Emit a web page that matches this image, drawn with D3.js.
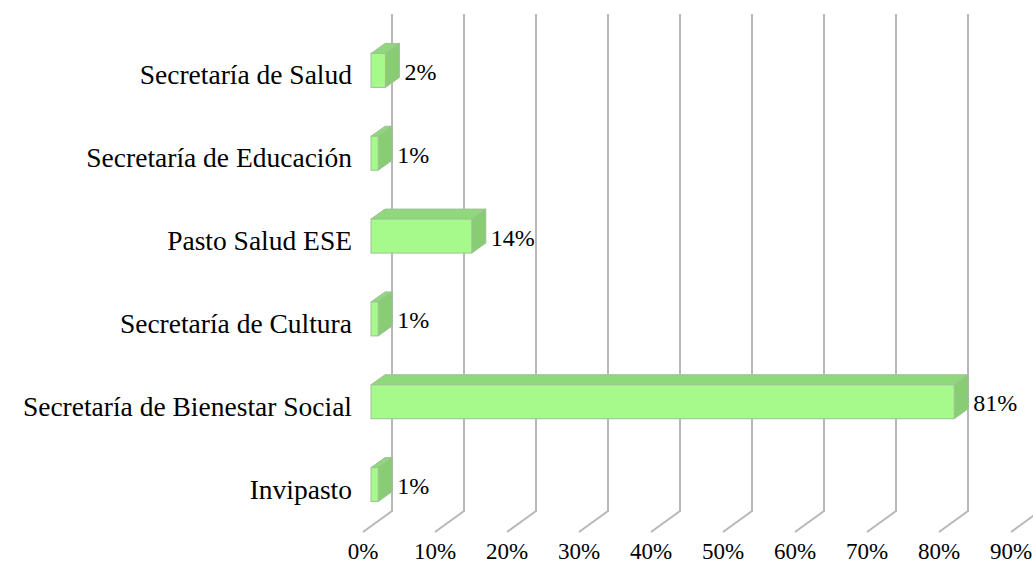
<!DOCTYPE html>
<html>
<head>
<meta charset="utf-8">
<script src="https://cdn.jsdelivr.net/npm/d3@7"></script>
<style>
  body { margin: 0; background: #fff; }
</style>
</head>
<body>
<svg id="chart" width="1033" height="565"></svg>
<script>
var categories = ["Secretaría de Salud", "Secretaría de Educación", "Pasto Salud ESE",
                  "Secretaría de Cultura", "Secretaría de Bienestar Social", "Invipasto"];
var values = [0.02, 0.01, 0.14, 0.01, 0.81, 0.01];
var valueLabels = ["2%", "1%", "14%", "1%", "81%", "1%"];
var ticks = [0, 0.1, 0.2, 0.3, 0.4, 0.5, 0.6, 0.7, 0.8, 0.9];

var font = "'Liberation Serif', 'Times New Roman', 'DejaVu Serif', serif";

var svg = d3.select("#chart");

// back wall plane
var x = d3.scaleLinear().domain([0, 0.9]).range([392, 1040]);
var y = d3.scaleBand().domain(categories).range([14, 511]).paddingInner(0.59).paddingOuter(0.295);

// depth offsets (toward viewer)
var floorDx = -29, floorDy = 21;
var barFrontDx = -21, barFrontDy = 15;
var depthX = 14, depthY = -10;

// gridlines: vertical on back wall, then diagonal across the floor
var grid = svg.append("g");
grid.selectAll("path").data(ticks).enter().append("path")
  .attr("d", function(d) {
    var gx = x(d);
    return "M" + gx + ",14 L" + gx + ",511 L" + (gx + floorDx) + "," + (511 + floorDy);
  })
  .attr("fill", "none")
  .attr("stroke", "#b8b8b8")
  .attr("stroke-width", 2);

// tick labels
svg.append("g").selectAll("text").data(ticks).enter().append("text")
  .attr("x", function(d) { return x(d) + floorDx; })
  .attr("y", 559)
  .attr("text-anchor", "middle")
  .style("font-family", font)
  .style("font-size", "23px")
  .text(function(d) { return Math.round(d * 100) + "%"; });

// bars
var bars = svg.append("g").selectAll("g").data(categories).enter().append("g");

bars.each(function(c, i) {
  var g = d3.select(this);
  var x0 = x(0) + barFrontDx;
  var x1 = x(values[i]) + barFrontDx;
  var y0 = y(c) + barFrontDy;
  var h = y.bandwidth();
  var stroke = "#9fbf95";

  // top face
  g.append("path")
    .attr("d", "M" + x0 + "," + y0 + " L" + (x0 + depthX) + "," + (y0 + depthY) +
               " L" + (x1 + depthX) + "," + (y0 + depthY) + " L" + x1 + "," + y0 + "Z")
    .attr("fill", "#8fd97c").attr("stroke", stroke).attr("stroke-width", 1);
  // side face
  g.append("path")
    .attr("d", "M" + x1 + "," + y0 + " L" + (x1 + depthX) + "," + (y0 + depthY) +
               " L" + (x1 + depthX) + "," + (y0 + h + depthY) + " L" + x1 + "," + (y0 + h) + "Z")
    .attr("fill", "#88cd73").attr("stroke", stroke).attr("stroke-width", 1);
  // front face
  g.append("rect")
    .attr("x", x0).attr("y", y0)
    .attr("width", x1 - x0).attr("height", h)
    .attr("fill", "#a6fa8b").attr("stroke", stroke).attr("stroke-width", 1);

  // value label
  g.append("text")
    .attr("x", x1 + depthX + 5)
    .attr("y", y0 + h / 2 + 9.5)
    .style("font-family", font)
    .style("font-size", "24px")
    .text(valueLabels[i]);

  // category label
  g.append("text")
    .attr("x", 352)
    .attr("y", y0 + h / 2 + 14)
    .attr("text-anchor", "end")
    .style("font-family", font)
    .style("font-size", "27.5px")
    .text(c);
});
</script>
</body>
</html>
